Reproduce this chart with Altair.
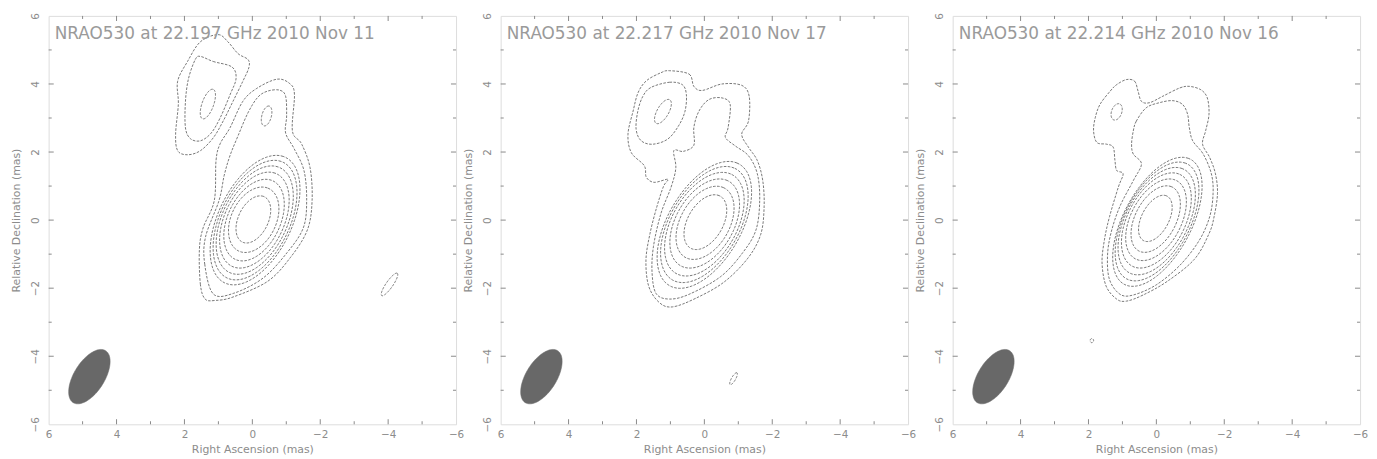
import math
import pandas as pd
import altair as alt

# ---------------- axis values ----------------
RA_LABELS = [6, 4, 2, 0, -2, -4, -6]
DEC_LABELS = [-6, -4, -2, 0, 2, 4, 6]
MAJOR_TICKS = [-4, -2, 0, 2, 4]
MINOR_TICKS = [-5, -3, -1, 1, 3, 5]

TITLES = [
    "NRAO530 at 22.197 GHz 2010 Nov 11",
    "NRAO530 at 22.217 GHz 2010 Nov 17",
    "NRAO530 at 22.214 GHz 2010 Nov 16",
]

# restoring beam: ra0, dec0, semi-major, semi-minor, position angle (deg, N through W)
BEAM = (4.80, -4.60, 0.90, 0.45, 32)

# ---------------- panel 1 (2010 Nov 11) ----------------
# elliptical contours: ra0, dec0, a, b, pa
P1_ELLIPSES = [
    (-0.03, 0.02, 0.74, 0.44, 26),
    (-0.04, 0.01, 1.02, 0.66, 26),
    (-0.05, 0.00, 1.28, 0.77, 26),
    (-0.06, 0.00, 1.51, 0.87, 26),
    (-0.07, 0.00, 1.71, 0.95, 26),
    (-0.08, 0.00, 1.89, 1.02, 26),
    (-0.08, 0.00, 2.05, 1.08, 26),
    (-0.42, 3.06, 0.30, 0.14, 15),
    (1.31, 3.41, 0.46, 0.17, 20),
    (-4.04, -1.89, 0.40, 0.10, 35),
]
P1_LEVEL1 = [(1.39, -2.32), (1.53, -1.89), (1.56, -0.87), (1.45, -0.23), (1.12, 0.58),
             (1.07, 1.75), (0.95, 2.24), (0.66, 2.71), (0.28, 3.49), (-0.13, 3.87),
             (-0.72, 4.14), (-1.09, 4.02), (-1.24, 3.70), (-1.18, 2.62), (-1.45, 2.24),
             (-1.70, 1.54), (-1.76, 0.58), (-1.62, -0.29), (-1.12, -1.10), (-0.45, -1.80),
             (0.57, -2.26), (1.09, -2.36)]
P1_LEVEL2 = [(1.15, -2.17), (1.40, -1.31), (1.38, -0.50), (0.98, 0.58), (0.83, 1.31),
             (0.66, 1.89), (0.42, 2.48), (0.13, 3.15), (-0.16, 3.61), (-0.45, 3.79),
             (-0.80, 3.82), (-0.98, 3.64), (-1.01, 3.06), (-0.98, 2.56), (-1.23, 2.10),
             (-1.52, 1.46), (-1.60, 0.58), (-1.50, -0.23), (-1.02, -0.96), (-0.32, -1.70),
             (0.55, -2.15)]
P1_BLOB1 = [(1.53, 5.24), (1.01, 5.45), (0.72, 5.24), (0.42, 4.89), (0.13, 4.72),
            (0.10, 4.49), (0.28, 4.08), (0.57, 3.49), (0.86, 2.91), (1.15, 2.42),
            (1.53, 2.04), (1.91, 1.92), (2.20, 2.04), (2.26, 2.53), (2.18, 3.41),
            (2.20, 4.08), (1.91, 4.66)]
P1_BLOB2 = [(1.53, 4.81), (1.15, 4.66), (0.60, 4.50), (0.48, 4.16), (0.65, 3.70),
            (0.95, 3.00), (1.22, 2.55), (1.53, 2.33), (1.82, 2.39), (1.97, 2.71),
            (1.97, 3.49), (1.88, 4.16), (1.68, 4.72)]

# ---------------- panel 2 (2010 Nov 17) ----------------
P2_ELLIPSES = [
    (-0.03, -0.06, 0.88, 0.52, 30),
    (-0.02, -0.08, 1.17, 0.72, 30),
    (-0.01, -0.10, 1.43, 0.85, 30),
    (0.00, -0.12, 1.67, 0.95, 30),
    (0.00, -0.13, 1.88, 1.02, 30),
    (0.00, -0.14, 2.06, 1.08, 30),
    (1.22, 3.19, 0.40, 0.17, 30),
    (-0.86, -4.66, 0.20, 0.06, 30),
]
P2_LEVEL1 = [(1.03, 4.39), (0.45, 4.29), (0.31, 3.93), (0.06, 3.81), (-0.52, 4.00),
             (-1.10, 3.96), (-1.32, 3.64), (-1.30, 2.91), (-1.10, 2.52), (-1.30, 2.14),
             (-1.56, 1.75), (-1.72, 1.16), (-1.76, 0.39), (-1.66, -0.42), (-1.28, -1.12),
             (-0.58, -1.82), (0.26, -2.30), (0.94, -2.55), (1.33, -2.42), (1.64, -1.94),
             (1.72, -1.17), (1.60, -0.39), (1.40, 0.39), (1.20, 1.00), (1.07, 1.20),
             (1.48, 1.11), (1.71, 1.26), (1.77, 1.60), (2.15, 1.98), (2.25, 2.52),
             (2.10, 3.20), (1.95, 3.75), (1.70, 4.10), (1.28, 4.33)]
P2_LEVEL2 = [(0.90, 2.04), (0.62, 2.02), (0.31, 2.20), (0.31, 2.72), (0.16, 3.20),
             (-0.13, 3.54), (-0.52, 3.59), (-0.76, 3.40), (-0.70, 2.72), (-0.62, 2.43),
             (-0.91, 2.18), (-1.30, 1.89), (-1.56, 1.36), (-1.63, 0.58), (-1.52, -0.29),
             (-1.12, -0.97), (-0.48, -1.66), (0.45, -2.18), (1.03, -2.32), (1.42, -2.16),
             (1.54, -1.55), (1.50, -0.78), (1.28, 0.19), (0.98, 0.97), (0.84, 1.54)]
P2_BLOB2 = [(1.57, 3.90), (1.03, 4.05), (0.65, 3.98), (0.53, 3.69), (0.57, 3.20),
            (0.76, 2.77), (1.08, 2.38), (1.52, 2.23), (1.86, 2.33), (2.01, 2.67),
            (1.96, 3.20), (1.81, 3.64)]

# ---------------- panel 3 (2010 Nov 16) ----------------
P3_ELLIPSES = [
    (0.03, 0.05, 0.74, 0.40, 28),
    (0.02, 0.03, 1.06, 0.60, 28),
    (0.01, 0.01, 1.30, 0.74, 28),
    (0.00, -0.01, 1.52, 0.84, 28),
    (-0.01, -0.03, 1.72, 0.91, 28),
    (-0.02, -0.04, 1.91, 0.96, 28),
    (-0.03, -0.05, 2.08, 1.00, 28),
    (1.17, 3.18, 0.25, 0.15, 20),
    (1.90, -3.54, 0.06, 0.05, 0),
]
P3_LEVEL1 = [(0.88, 4.13), (0.64, 4.08), (0.54, 3.79), (0.44, 3.49), (0.20, 3.45),
             (-0.19, 3.64), (-0.68, 3.88), (-0.97, 3.93), (-1.31, 3.83), (-1.50, 3.59),
             (-1.55, 3.11), (-1.45, 2.62), (-1.36, 2.23), (-1.57, 1.84), (-1.74, 1.36),
             (-1.80, 0.78), (-1.70, 0.10), (-1.55, -0.40), (-1.12, -1.15), (-0.32, -1.80),
             (0.39, -2.20), (0.88, -2.38), (1.17, -2.32), (1.48, -1.94), (1.60, -1.26),
             (1.53, -0.58), (1.38, 0.10), (1.12, 0.97), (0.98, 1.36), (1.17, 1.46),
             (1.22, 1.75), (1.27, 2.14), (1.46, 2.23), (1.75, 2.28), (1.85, 2.62),
             (1.80, 3.01), (1.66, 3.40), (1.36, 3.79), (1.17, 3.98)]
P3_LEVEL2 = [(0.68, 2.62), (0.59, 2.91), (0.30, 3.30), (-0.09, 3.45), (-0.48, 3.51),
             (-0.77, 3.40), (-0.92, 3.11), (-0.97, 2.72), (-1.07, 2.33), (-1.38, 1.94),
             (-1.62, 1.36), (-1.67, 0.78), (-1.57, 0.10), (-1.26, -0.60), (-0.70, -1.32),
             (0.00, -1.90), (0.68, -2.20), (1.07, -2.18), (1.38, -1.75), (1.44, -1.07),
             (1.34, -0.39), (1.08, 0.39), (0.68, 1.16), (0.44, 1.65), (0.68, 1.94),
             (0.73, 2.23)]

PANELS = [
    (P1_ELLIPSES, [P1_LEVEL1, P1_LEVEL2, P1_BLOB1, P1_BLOB2]),
    (P2_ELLIPSES, [P2_LEVEL1, P2_LEVEL2, P2_BLOB2]),
    (P3_ELLIPSES, [P3_LEVEL1, P3_LEVEL2]),
]


def ellipse_rows(e, key, n=90):
    ra0, dec0, a, b, pa = e
    th = math.radians(pa)
    out = []
    for i in range(n):
        t = 2 * math.pi * i / n
        ra = ra0 - a * math.cos(t) * math.sin(th) + b * math.sin(t) * math.cos(th)
        dec = dec0 + a * math.cos(t) * math.cos(th) + b * math.sin(t) * math.sin(th)
        out.append({"cid": key, "i": i, "ra": ra, "dec": dec})
    return out


FONT = "DejaVu Sans"
XS = alt.Scale(domain=[6, -6], nice=False, zero=False)
YS = alt.Scale(domain=[-6, 6], nice=False, zero=False)
GREY_TXT = "#8c8c8c"
X_AX = alt.Axis(title="Right Ascension   (mas)", values=RA_LABELS, ticks=False, domain=False,
                grid=False, labelFlush=False, labelFontSize=10.5, labelColor=GREY_TXT,
                titleColor=GREY_TXT, titleFontSize=11, titleFontWeight="normal",
                labelFont=FONT, titleFont=FONT, labelPadding=5, titlePadding=4)
Y_AX = alt.Axis(title="Relative Declination   (mas)", values=DEC_LABELS, ticks=False,
                domain=False, grid=False, labelAngle=270, labelAlign="center",
                labelBaseline="bottom", labelFontSize=10.5, labelColor=GREY_TXT,
                titleColor=GREY_TXT, titleFontSize=11, titleFontWeight="normal",
                labelFont=FONT, titleFont=FONT, labelPadding=8, titlePadding=9)

# tick marks drawn inside the frame
tick_rows = []
for v in MAJOR_TICKS + MINOR_TICKS:
    ln = 0.15 if v in MAJOR_TICKS else 0.09
    tick_rows.append({"x": v, "x2": v, "y": -6, "y2": -6 + ln})
    tick_rows.append({"x": v, "x2": v, "y": 6, "y2": 6 - ln})
    tick_rows.append({"x": 6, "x2": 6 - ln, "y": v, "y2": v})
    tick_rows.append({"x": -6, "x2": -6 + ln, "y": v, "y2": v})
ticks_df = pd.DataFrame(tick_rows)
beam_df = pd.DataFrame(ellipse_rows(BEAM, "beam", 120))


def make_panel(k):
    ellipses, polys = PANELS[k]
    rows = []
    for j, e in enumerate(ellipses):
        rows += ellipse_rows(e, f"e{j}")
    for j, p in enumerate(polys):
        for i, (ra, dec) in enumerate(p):
            rows.append({"cid": f"p{j}", "i": i, "ra": ra, "dec": dec})
    cdf = pd.DataFrame(rows)

    beam = alt.Chart(beam_df).mark_line(
        interpolate="linear-closed", fill="#686868", stroke="#686868", strokeWidth=0.5
    ).encode(x=alt.X("ra:Q", scale=XS, axis=X_AX), y=alt.Y("dec:Q", scale=YS, axis=Y_AX),
             order="i:Q")
    lines = alt.Chart(cdf).mark_line(
        interpolate="cardinal-closed", stroke="#4a4a4a", strokeWidth=0.75,
        strokeDash=[2.6, 1.4], clip=True
    ).encode(x=alt.X("ra:Q", scale=XS, axis=X_AX), y=alt.Y("dec:Q", scale=YS, axis=Y_AX),
             detail="cid:N", order="i:Q")
    ticks = alt.Chart(ticks_df).mark_rule(color="#8a8a8a", strokeWidth=1).encode(
        x=alt.X("x:Q", scale=XS, axis=X_AX), x2="x2:Q",
        y=alt.Y("y:Q", scale=YS, axis=Y_AX), y2="y2:Q")
    tdf = pd.DataFrame({"ra": [5.82], "dec": [5.47], "label": [TITLES[k]]})
    text = alt.Chart(tdf).mark_text(align="left", baseline="middle", fontSize=17,
                                    font=FONT, color="#9a9a9a").encode(
        x=alt.X("ra:Q", scale=XS, axis=X_AX), y=alt.Y("dec:Q", scale=YS, axis=Y_AX),
        text="label:N")
    return alt.layer(beam, lines, ticks, text).properties(width=411, height=412)


chart = alt.hconcat(make_panel(0), make_panel(1), make_panel(2), spacing=45, bounds="flush")
chart = chart.configure_view(stroke="#9a9a9a", strokeWidth=1).configure(
    font=FONT).properties(padding={"left": 2, "top": 2, "right": 0, "bottom": 0})

chart.save("out.html", embed_options={"renderer": "svg", "actions": False})
